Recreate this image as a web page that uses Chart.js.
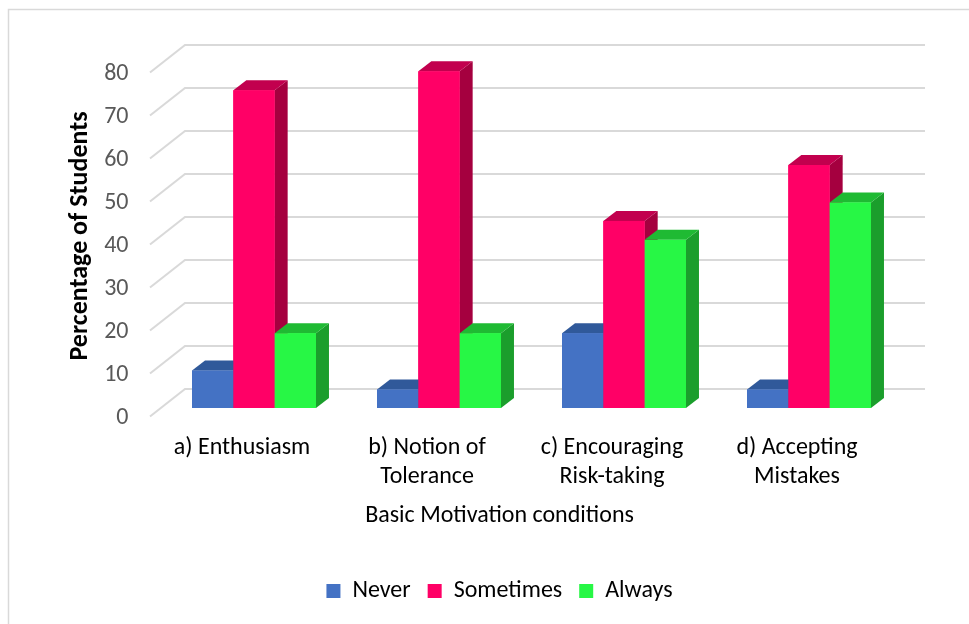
<!DOCTYPE html>
<html>
<head>
<meta charset="utf-8">
<script src="https://cdn.jsdelivr.net/npm/chart.js@4/dist/chart.umd.min.js"></script>
<style>
  html, body { margin: 0; padding: 0; background: #ffffff; }
  #wrap { width: 969px; height: 624px; }
</style>
</head>
<body>
<div id="wrap"><canvas id="c" width="969" height="624"></canvas></div>
<script>
// ---- data ----
const categories = ['a) Enthusiasm', ['b) Notion of', 'Tolerance'], ['c) Encouraging', 'Risk-taking'], ['d) Accepting', 'Mistakes']];
const seriesNames = ['Never', 'Sometimes', 'Always'];
const neverValues = [8.7, 4.3, 17.4, 4.3];
const sometimesValues = [73.9, 78.3, 43.5, 56.5];
const alwaysValues = [17.4, 17.4, 39.1, 47.8];
const yTicks = [0, 10, 20, 30, 40, 50, 60, 70, 80];
const xAxisTitle = 'Basic Motivation conditions';
const yAxisTitle = 'Percentage of Students';

// ---- styles ----
const FONT = "Carlito, Calibri, Lato, 'Open Sans', sans-serif";
const faceColors = [
  { front: '#4472C4', top: '#30599A', side: '#284C86' },
  { front: '#FF0066', top: '#C2004E', side: '#A5003F' },
  { front: '#27F745', top: '#1FBA33', side: '#1B9E2C' }
];
const DEPTH_X = 13, DEPTH_Y = 10;       // bar depth
const BACK_X = 23.5, BACK_Y = 19;       // bar plane -> back wall
const FRONT_X = 11.5, FRONT_Y = 8.5;    // bar plane -> front floor edge

const framePlugin = {
  id: 'frame',
  beforeDraw(chart) {
    const ctx = chart.ctx;
    ctx.save();
    ctx.fillStyle = '#ffffff';
    ctx.fillRect(0, 0, chart.width, chart.height);
    ctx.strokeStyle = '#d9d9d9';
    ctx.lineWidth = 1.5;
    ctx.strokeRect(8.5, 9.5, chart.width + 20, chart.height + 20);
    ctx.restore();
  }
};

const wallGridPlugin = {
  id: 'wallGrid',
  beforeDatasetsDraw(chart) {
    const ctx = chart.ctx, ca = chart.chartArea, ys = chart.scales.y;
    ctx.save();
    ctx.strokeStyle = '#d9d9d9';
    ctx.lineWidth = 2;
    ys.ticks.forEach(t => {
      const yb = ys.getPixelForValue(t.value);
      ctx.beginPath();
      ctx.moveTo(ca.left - FRONT_X, yb + FRONT_Y);
      ctx.lineTo(ca.left + BACK_X, yb - BACK_Y);
      ctx.lineTo(ca.right + BACK_X, yb - BACK_Y);
      ctx.stroke();
    });
    ctx.restore();
  }
};

const bars3dPlugin = {
  id: 'bars3d',
  afterDatasetsDraw(chart) {
    const ctx = chart.ctx;
    const n = chart.data.labels.length;
    ctx.save();
    for (let i = 0; i < n; i++) {
      chart.data.datasets.forEach((ds, d) => {
        const el = chart.getDatasetMeta(d).data[i];
        if (!el) return;
        const { x, y, base, width } = el.getProps(['x', 'y', 'base', 'width'], true);
        const l = x - width / 2, r = x + width / 2;
        const c = faceColors[d];
        // side
        ctx.fillStyle = c.side;
        ctx.beginPath();
        ctx.moveTo(r, y); ctx.lineTo(r + DEPTH_X, y - DEPTH_Y);
        ctx.lineTo(r + DEPTH_X, base - DEPTH_Y); ctx.lineTo(r, base);
        ctx.closePath(); ctx.fill();
        // top
        ctx.fillStyle = c.top;
        ctx.beginPath();
        ctx.moveTo(l, y); ctx.lineTo(l + DEPTH_X, y - DEPTH_Y);
        ctx.lineTo(r + DEPTH_X, y - DEPTH_Y); ctx.lineTo(r, y);
        ctx.closePath(); ctx.fill();
        // front
        ctx.fillStyle = c.front;
        ctx.fillRect(l, y, width, base - y);
      });
    }
    ctx.restore();
  }
};

new Chart(document.getElementById('c'), {
  type: 'bar',
  data: {
    labels: categories,
    datasets: [
      { label: seriesNames[0], data: neverValues, backgroundColor: faceColors[0].front, borderWidth: 0 },
      { label: seriesNames[1], data: sometimesValues, backgroundColor: faceColors[1].front, borderWidth: 0 },
      { label: seriesNames[2], data: alwaysValues, backgroundColor: faceColors[2].front, borderWidth: 0 }
    ]
  },
  options: {
    responsive: false,
    animation: false,
    events: [],
    layout: { padding: { top: 64, left: 97.5, right: 67.5, bottom: 11 } },
    datasets: { bar: { barPercentage: 1.0, categoryPercentage: 0.67 } },
    plugins: {
      tooltip: { enabled: false },
      title: {
        display: true, text: xAxisTitle, position: 'bottom', fullSize: true, weight: 500,
        color: '#000000', font: { family: FONT, size: 24, weight: 'normal' },
        padding: { top: 0, bottom: 31.6 }
      },
      legend: {
        position: 'bottom',
        labels: {
          boxWidth: 14, boxHeight: 14, padding: 17, color: '#000000',
          font: { family: FONT, size: 24 }
        }
      }
    },
    scales: {
      x: {
        grid: { display: false, drawTicks: false },
        border: { display: false },
        ticks: {
          color: '#000000', font: { family: FONT, size: 24 },
          labelOffset: -12, padding: 26, autoSkip: false, maxRotation: 0
        },
        afterFit(s) { s.height = 93.6; }
      },
      y: {
        min: 0, max: 80,
        grid: { display: false, drawTicks: false },
        border: { display: false },
        afterBuildTicks(s) { s.ticks = yTicks.map(v => ({ value: v })); },
        ticks: {
          color: '#595959', font: { family: FONT, size: 24 },
          padding: 33, labelOffset: 9.5
        },
        title: {
          display: true, text: yAxisTitle, color: '#000000',
          font: { family: FONT, size: 26, weight: 'bold' }, padding: { top: -33, bottom: 0 }
        },
        afterFit(s) { s.width = 64; }
      }
    }
  },
  plugins: [framePlugin, wallGridPlugin, bars3dPlugin]
});
</script>
</body>
</html>
